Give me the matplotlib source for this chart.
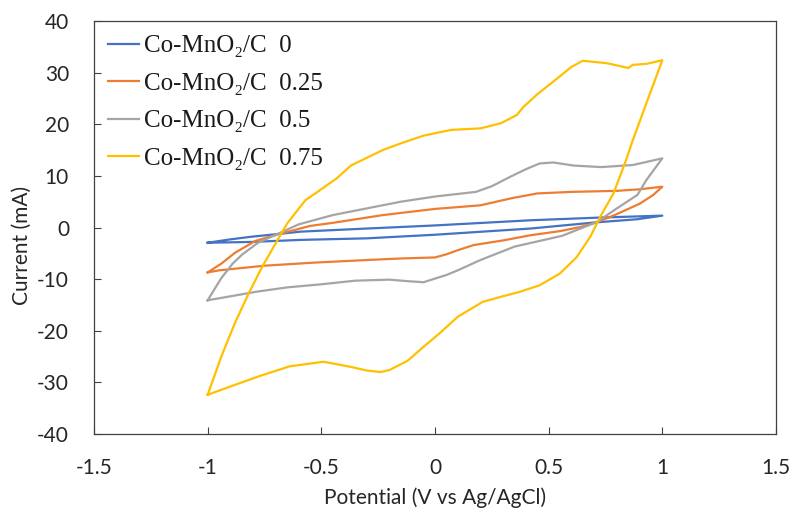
import matplotlib
matplotlib.use("Agg")
import matplotlib.pyplot as plt

plt.rcParams["axes.unicode_minus"] = False

# ---- data ----
labels = ["Co-MnO\u2082/C  0", "Co-MnO\u2082/C  0.25", "Co-MnO\u2082/C  0.5", "Co-MnO\u2082/C  0.75"]
colors = ["#4472C4", "#ED7D31", "#A5A5A5", "#FFC000"]

blue_fx = [-1, -0.9, -0.81, -0.59, -0.3, 0, 0.42, 0.71, 1]
blue_fy = [-2.95, -2.3, -1.8, -0.8, -0.2, 0.4, 1.4, 1.9, 2.3]
blue_rx = [1, 0.89, 0.71, 0.42, 0, -0.3, -0.59, -0.81, -1]
blue_ry = [2.3, 1.6, 1.0, -0.2, -1.4, -2.1, -2.4, -2.8, -2.95]

orange_fx = [-1, -0.94, -0.88, -0.79, -0.68, -0.55, -0.45, -0.23, 0, 0.2, 0.34, 0.45, 0.6, 0.8, 0.9, 1]
orange_fy = [-8.7, -7.0, -4.9, -2.6, -1.2, 0.3, 0.9, 2.4, 3.6, 4.3, 5.7, 6.6, 6.9, 7.1, 7.4, 7.9]
orange_rx = [1, 0.96, 0.9, 0.79, 0.71, 0.64, 0.55, 0.42, 0.3, 0.17, 0.1, 0.05, 0, -0.15, -0.3, -0.53, -0.75, -0.95, -1]
orange_ry = [7.9, 6.3, 4.6, 2.4, 1.0, 0.1, -0.7, -1.5, -2.5, -3.4, -4.4, -5.2, -5.8, -6.0, -6.3, -6.8, -7.4, -8.3, -8.7]

gray_fx = [-1, -0.94, -0.89, -0.85, -0.78, -0.68, -0.6, -0.45, -0.3, -0.15, 0, 0.18, 0.25, 0.33, 0.4, 0.46, 0.52,
           0.61, 0.73, 0.87, 1]
gray_fy = [-14.1, -9.8, -7.0, -5.3, -3.0, -1.0, 0.6, 2.4, 3.7, 5.0, 6.0, 6.9, 8.0, 9.8, 11.3, 12.4, 12.6,
           12.0, 11.7, 12.1, 13.4]
gray_rx = [1, 0.93, 0.89, 0.8, 0.71, 0.64, 0.56, 0.45, 0.35, 0.2, 0.1, 0.05, -0.05, -0.12, -0.2, -0.35, -0.5,
           -0.65, -0.78, -1]
gray_ry = [13.4, 9.2, 6.3, 3.7, 1.0, -0.2, -1.6, -2.7, -3.7, -6.3, -8.3, -9.2, -10.6, -10.4, -10.1, -10.3, -11.0,
           -11.6, -12.4, -14.1]

yellow_fx = [-1, -0.94, -0.88, -0.82, -0.76, -0.7, -0.65, -0.57, -0.52, -0.43, -0.37, -0.3, -0.23, -0.15, -0.05,
             0.07, 0.2, 0.29, 0.36, 0.39, 0.45, 0.51, 0.6, 0.65, 0.76, 0.85, 0.87, 0.93, 1]
yellow_fy = [-32.4, -25.0, -18.5, -12.8, -7.6, -3.0, 0.8, 5.3, 6.8, 9.6, 12.0, 13.5, 15.0, 16.3, 17.8,
             18.9, 19.2, 20.2, 21.8, 23.4, 25.8, 27.9, 31.1, 32.3, 31.8, 30.9, 31.5, 31.7, 32.4]
yellow_rx = [1, 0.93, 0.87, 0.84, 0.785, 0.727, 0.683, 0.624, 0.55, 0.46, 0.37, 0.3, 0.21, 0.1, 0.02, -0.05, -0.12,
             -0.2, -0.24, -0.3, -0.37, -0.49, -0.64, -0.78, -0.9, -1]
yellow_ry = [32.4, 24.1, 16.9, 13.0, 6.6, 2.1, -1.8, -5.7, -8.9, -11.2, -12.5, -13.3, -14.4, -17.3, -20.5, -23.1,
             -25.8, -27.6, -28.0, -27.7, -27.0, -26.0, -26.9, -28.9, -30.8, -32.4]

x_ticks = [-1.5, -1, -0.5, 0, 0.5, 1, 1.5]
x_ticklabels = ["-1.5", "-1", "-0.5", "0", "0.5", "1", "1.5"]
y_ticks = [-40, -30, -20, -10, 0, 10, 20, 30, 40]

series = [
    (blue_fx + blue_rx, blue_fy + blue_ry),
    (orange_fx + orange_rx, orange_fy + orange_ry),
    (gray_fx + gray_rx, gray_fy + gray_ry),
    (yellow_fx + yellow_rx, yellow_fy + yellow_ry),
]

# ---- figure ----
W, H = 793, 519
fig = plt.figure(figsize=(W / 100, H / 100), dpi=100)
ax = fig.add_axes([94 / W, 1 - 434 / H, (776 - 94) / W, (434 - 21) / H])

for (xs, ys), c, lab in zip(series, colors, labels):
    ax.plot(xs, ys, color=c, lw=1.6, label=lab, solid_joinstyle="round")

ax.set_xlim(-1.5, 1.5)
ax.set_ylim(-40, 40)
ax.set_xticks(x_ticks)
ax.set_xticklabels(x_ticklabels)
ax.set_yticks(y_ticks)

tick_font = "Lato"
txtcol = "#262626"
for lab in ax.get_xticklabels() + ax.get_yticklabels():
    lab.set_fontfamily(tick_font)
    lab.set_fontsize(15)
    lab.set_color(txtcol)

ax.tick_params(axis="both", direction="in", length=5, width=0.8, colors="#404040", labelcolor=txtcol)
ax.tick_params(axis="x", pad=17)
ax.tick_params(axis="y", pad=18)
for sp in ax.spines.values():
    sp.set_color("#404040")
    sp.set_linewidth(0.9)

fig.text(435 / W, 1 - 498 / H, "Potential (V vs Ag/AgCl)", fontfamily=tick_font, fontsize=15,
         color=txtcol, ha="center", va="center")
fig.text(22 / W, 1 - 245 / H, "Current (mA)", fontfamily=tick_font, fontsize=15,
         color=txtcol, ha="center", va="center", rotation=90)

leg = ax.legend(loc="upper left", bbox_to_anchor=(0.0, 1.0), frameon=False,
                prop={"family": ["Liberation Serif", "DejaVu Serif"], "size": 18},
                handlelength=1.25, handletextpad=0.2, labelspacing=0.6, borderaxespad=0.15)
for t in leg.get_texts():
    t.set_color("#1a1a1a")

fig.savefig("out.png", dpi=100)
